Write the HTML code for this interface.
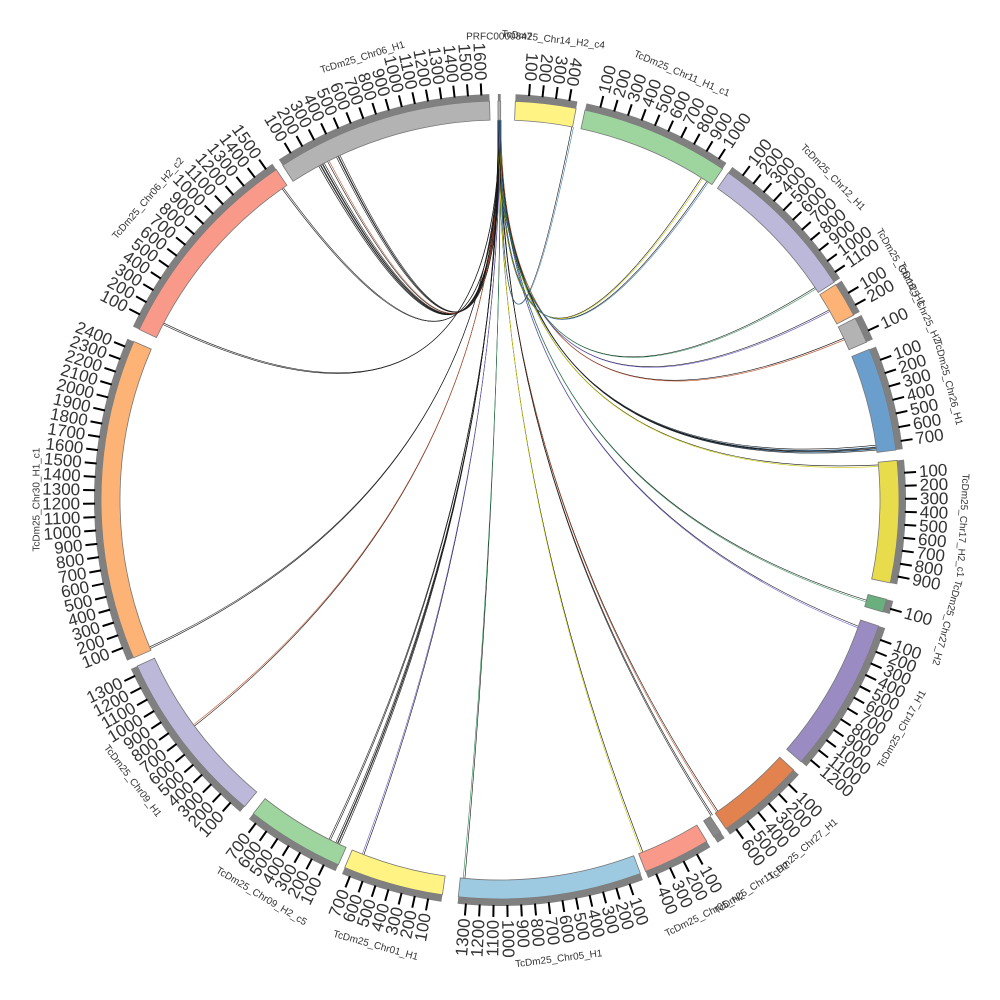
<!DOCTYPE html>
<html><head><meta charset="utf-8"><style>
html,body{margin:0;padding:0;background:#fff;width:1000px;height:1000px;overflow:hidden}
svg{display:block}
text{font-family:"Liberation Sans",sans-serif;fill:#333}
</style></head><body>
<svg id="s" width="1000" height="1000" viewBox="0 0 1000 1000" xmlns="http://www.w3.org/2000/svg">
<g id="links"></g><g id="segs"></g><g id="labs"></g>
</svg>
<script>
var C=500,R1=380,R2=399,NS="http://www.w3.org/2000/svg";
function P(a,r){var t=a*Math.PI/180;return [C+r*Math.sin(t),C-r*Math.cos(t)];}
function el(p,tag,at,txt){var e=document.createElementNS(NS,tag);for(var k in at)e.setAttribute(k,at[k]);if(txt!=null)e.textContent=txt;document.getElementById(p).appendChild(e);return e;}
function ann(a0,a1,r0,r1){var p=P(a0,r1),q=P(a1,r1),u=P(a1,r0),v=P(a0,r0),lg=(a1-a0)>180?1:0;
return "M"+p+" A"+r1+","+r1+" 0 "+lg+" 1 "+q+" L"+u+" A"+r0+","+r0+" 0 "+lg+" 0 "+v+"Z";}
var segs=[
["TcDm25_Chr06_H1",-33,-1.5,1600,"#b3b3b3"],
["PRFC0000847",-0.3,0.1,0,"#b3b3b3"],
["TcDm25_Chr14_H2_c4",2.2,11,400,"#fff383"],
["TcDm25_Chr11_H1_c1",12.3,33.9,1000,"#9ed59f"],
["TcDm25_Chr12_H1",34.9,56.9,1100,"#bcb8da"],
["TcDm25_Chr18_H1",57.3,62.4,200,"#fdb375"],
["TcDm25_Chr25_H2",62.9,66.7,100,"#b3b3b3"],
["TcDm25_Chr26_H1",67.8,82.8,700,"#6a9fcd"],
["TcDm25_Chr17_H2_c1",84.3,102,900,"#e8dc4c"],
["TcDm25_Chr27_H2",104.4,106.3,100,"#6aaf7e"],
["TcDm25_Chr17_H1",108.4,131,1200,"#9b8bc3"],
["TcDm25_Chr27_H1",132.6,145.5,600,"#e2834f"],
["TcDm25_Chr11_H2",146.4,147.6,0,"#888"],
["TcDm25_Chr05_H2",148.8,158.6,400,"#f9998a"],
["TcDm25_Chr05_H1",159.4,186,1300,"#9ecae1"],
["TcDm25_Chr01_H1",188.3,202.9,700,"#fff383"],
["TcDm25_Chr09_H2_c5",203.9,218.2,700,"#9ed59f"],
["TcDm25_Chr09_H1",219.8,245.4,1300,"#bcb8da"],
["TcDm25_Chr30_H1_c1",246.7,293.4,2400,"#fdb375"],
["TcDm25_Chr06_H2_c2",295.3,325.9,1500,"#f9998a"]
];
var links=[[-28.5,"#222",3],[-27,"#c0502a",1],[-25.5,"#222",2],[-35,"#222",1],[297.5,"#222",1],[247,"#222",1],[233.5,"#c0502a",1],
[205,"#222",2],[206.5,"#222",1],[201,"#6a5acd",1],[185.3,"#2e8b57",1],[157.9,"#c8c800",1],[145,"#c0502a",1],[146,"#222",1],
[109.4,"#6a5acd",1],[105.3,"#2e8b57",1],[84.7,"#c8c800",1],[81.7,"#4682b4",2],[82.2,"#222",1],[64.8,"#c0502a",1],[60,"#6a5acd",1],[56,"#2e8b57",1],[32,"#c8c800",1],[33,"#4682b4",1],[10.9,"#4682b4",1]];
var si=0;
links.forEach(function(l){for(var i=0;i<l[2];i++){var s=-0.3+((si++)%5)*0.1;var a=P(s,R1),b=P(l[0]+i*0.35,R1),a2=P(s+0.05,R1),b2=P(l[0]+i*0.35+0.25,R1);
el("links","path",{d:"M"+a+" Q"+C+","+(C-15)+" "+b,fill:"none",stroke:"#111","stroke-width":0.6});
el("links","path",{d:"M"+a2+" Q"+C+","+(C-15)+" "+b2,fill:"none",stroke:l[1],"stroke-width":0.6});}});
segs.forEach(function(s){
var a0=s[1],a1=s[2],span=a1-a0;
el("segs","path",{d:ann(a0,a1,R1,R2),fill:s[4],stroke:"#777","stroke-width":0.8});
el("segs","path",{d:ann(a0,a1,R2,R2+7),fill:"#808080"});
if(s[3]>0){var L=s[3]+60;for(var k=100;k<=s[3];k+=100){var a=a0+span*k/L,p=P(a,R2+6),q=P(a,R2+18);
el("segs","line",{x1:p[0],y1:p[1],x2:q[0],y2:q[1],stroke:"#000","stroke-width":2});
var t=P(a,R2+21),flip=(a>=180||a<11.5);var rot=flip?a+90:a-90;
el("labs","text",{x:t[0],y:t[1],"font-size":17,"text-anchor":flip?"end":"start","dominant-baseline":"central",transform:"rotate("+rot+" "+t[0]+" "+t[1]+")"},String(k));}}
var m=(a0+a1)/2,am=(m+360)%360,t=P(m,463);var r2=(am>112&&am<240)?m-180:m;
el("labs","text",{x:t[0],y:t[1],"font-size":10,"text-anchor":"middle","dominant-baseline":"central",transform:"rotate("+r2+" "+t[0]+" "+t[1]+")"},s[0]);
});
</script>
</body></html>
